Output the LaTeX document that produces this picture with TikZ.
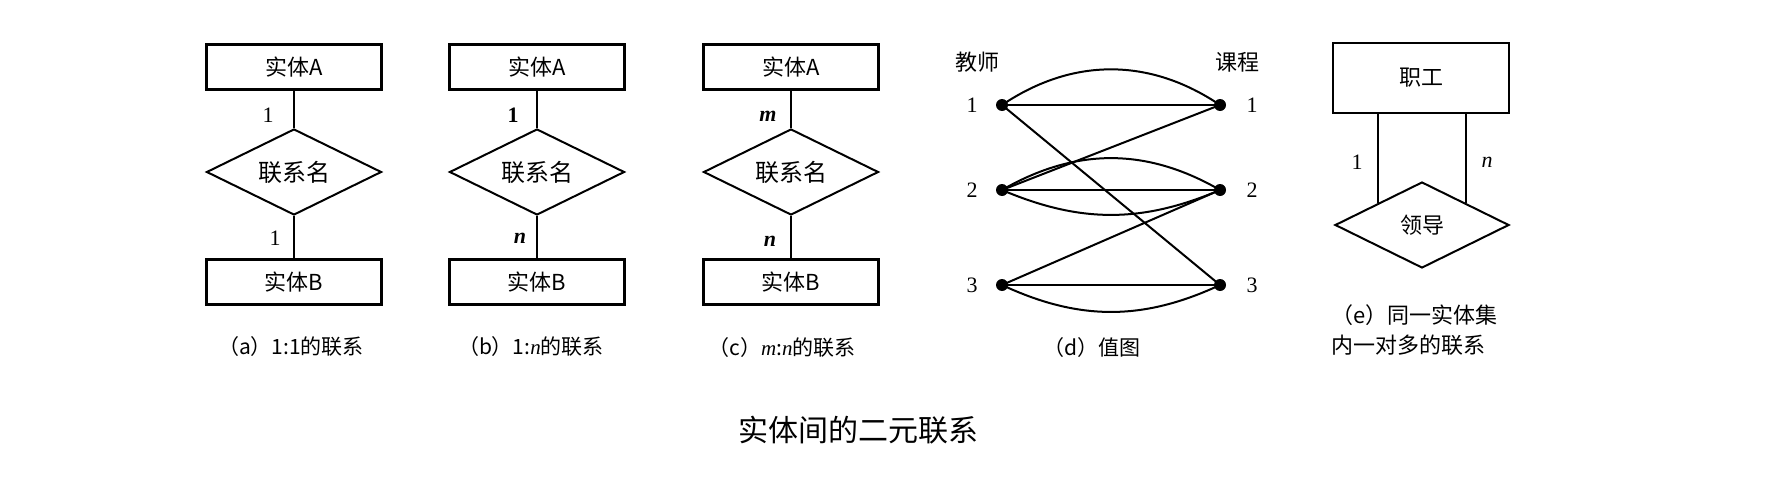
\documentclass[tikz,border=0pt]{standalone}
\usepackage{fontspec}
\setmainfont{Liberation Serif}
\newfontfamily\cjk{Noto Sans CJK SC}
\usetikzlibrary{shapes.geometric}
\begin{document}
\begin{tikzpicture}[x=1pt,y=-1pt,
 ent/.style={draw,line width=2.6pt,minimum width=175pt,minimum height=45pt,inner sep=0pt,font=\cjk\fontsize{22}{22}\selectfont},
 rel/.style={draw,diamond,aspect=2,line width=2pt,minimum width=175pt,minimum height=86pt,inner sep=0pt,font=\cjk\fontsize{24}{24}\selectfont},
 conn/.style={line width=1.6pt},
 card/.style={font=\fontsize{22}{22}\selectfont,inner sep=0pt},
 capt/.style={font=\cjk\fontsize{21}{21}\selectfont,inner sep=0pt},
 gdot/.style={circle,fill,inner sep=0pt,minimum size=12pt},
 gedge/.style={line width=2pt},
]
\useasboundingbox (0,0) rectangle (1772,479);
% (a)
\node[ent] (aA) at (294,67) {实体A};
\node[rel] (aR) at (294,172) {联系名};
\node[ent] (aB) at (294,282) {实体B};
\draw[conn] (aA) -- (aR);
\draw[conn] (aR) -- (aB);
\node[card] (a1) at (268,115) {1};
\node[card] (a2) at (275,238) {1};
\node[capt] (acap) at (291,347) {（a）1:1的联系};
% (b)
\node[ent] (bA) at (537,67) {实体A};
\node[rel] (bR) at (537,172) {联系名};
\node[ent] (bB) at (537,282) {实体B};
\draw[conn] (bA) -- (bR);
\draw[conn] (bR) -- (bB);
\node[card] (b1) at (513,115) {\textbf{1}};
\node[card] (b2) at (520,238) {\textbf{\textit{n}}};
\node[capt] (bcap) at (531,347) {（b）1:{\fontspec{Liberation Serif}\textit{n}}的联系};
% (c)
\node[ent] (cA) at (791,67) {实体A};
\node[rel] (cR) at (791,172) {联系名};
\node[ent] (cB) at (791,282) {实体B};
\draw[conn] (cA) -- (cR);
\draw[conn] (cR) -- (cB);
\node[card] (c1) at (768,116) {\textbf{\textit{m}}};
\node[card] (c2) at (770,241) {\textbf{\textit{n}}};
\node[capt] (ccap) at (782,348) {（c）{\fontspec{Liberation Serif}\textit{m}}:{\fontspec{Liberation Serif}\textit{n}}的联系};
% (d)
\node[font=\cjk\fontsize{22}{22}\selectfont,inner sep=0pt] (teach) at (977,62) {教师};
\node[font=\cjk\fontsize{22}{22}\selectfont,inner sep=0pt] (course) at (1237,62) {课程};
\node[gdot] (l1) at (1002,105) {};
\node[gdot] (l2) at (1002,190) {};
\node[gdot] (l3) at (1002,285) {};
\node[gdot] (r1) at (1220,105) {};
\node[gdot] (r2) at (1220,190) {};
\node[gdot] (r3) at (1220,285) {};
\node[card] (ln1) at (972,105) {1};
\node[card] (ln2) at (972,190) {2};
\node[card] (ln3) at (972,285) {3};
\node[card] (rn1) at (1252,105) {1};
\node[card] (rn2) at (1252,190) {2};
\node[card] (rn3) at (1252,285) {3};
\draw[gedge] (l1.center) -- (r1.center);
\draw[gedge] (l1.center) to[bend left=34] (r1.center);
\draw[gedge] (l1.center) -- (r3.center);
\draw[gedge] (l2.center) -- (r1.center);
\draw[gedge] (l2.center) to[bend left=30] (r2.center);
\draw[gedge] (l2.center) -- (r2.center);
\draw[gedge] (l2.center) to[bend right=23] (r2.center);
\draw[gedge] (l3.center) -- (r2.center);
\draw[gedge] (l3.center) -- (r3.center);
\draw[gedge] (l3.center) to[bend right=25] (r3.center);
\node[capt] (dcap) at (1092,348) {（d）值图};
% (e)
\node[ent,minimum width=176pt,minimum height=70pt,font=\cjk\fontsize{22}{22}\selectfont] (ebox) at (1421,78) {职工};
\node[rel,minimum width=174pt,font=\cjk\fontsize{22}{22}\selectfont] (erel) at (1422,225) {领导};
\draw[conn,line width=2pt] (erel.north west |- ebox.south) -- (erel.north west);
\draw[conn,line width=2pt] (erel.north east |- ebox.south) -- (erel.north east);
\node[card] (e1) at (1357,162) {1};
\node[card] (e2) at (1487,162) {\textit{n}};
\node[capt,anchor=west,align=left,font=\cjk\fontsize{22}{30}\selectfont] (ecap) at (1331,330) {（e）同一实体集\\内一对多的联系};
% title
\node[font=\cjk\fontsize{30}{30}\selectfont,inner sep=0pt] (title) at (858,430) {实体间的二元联系};
\end{tikzpicture}
\end{document}
